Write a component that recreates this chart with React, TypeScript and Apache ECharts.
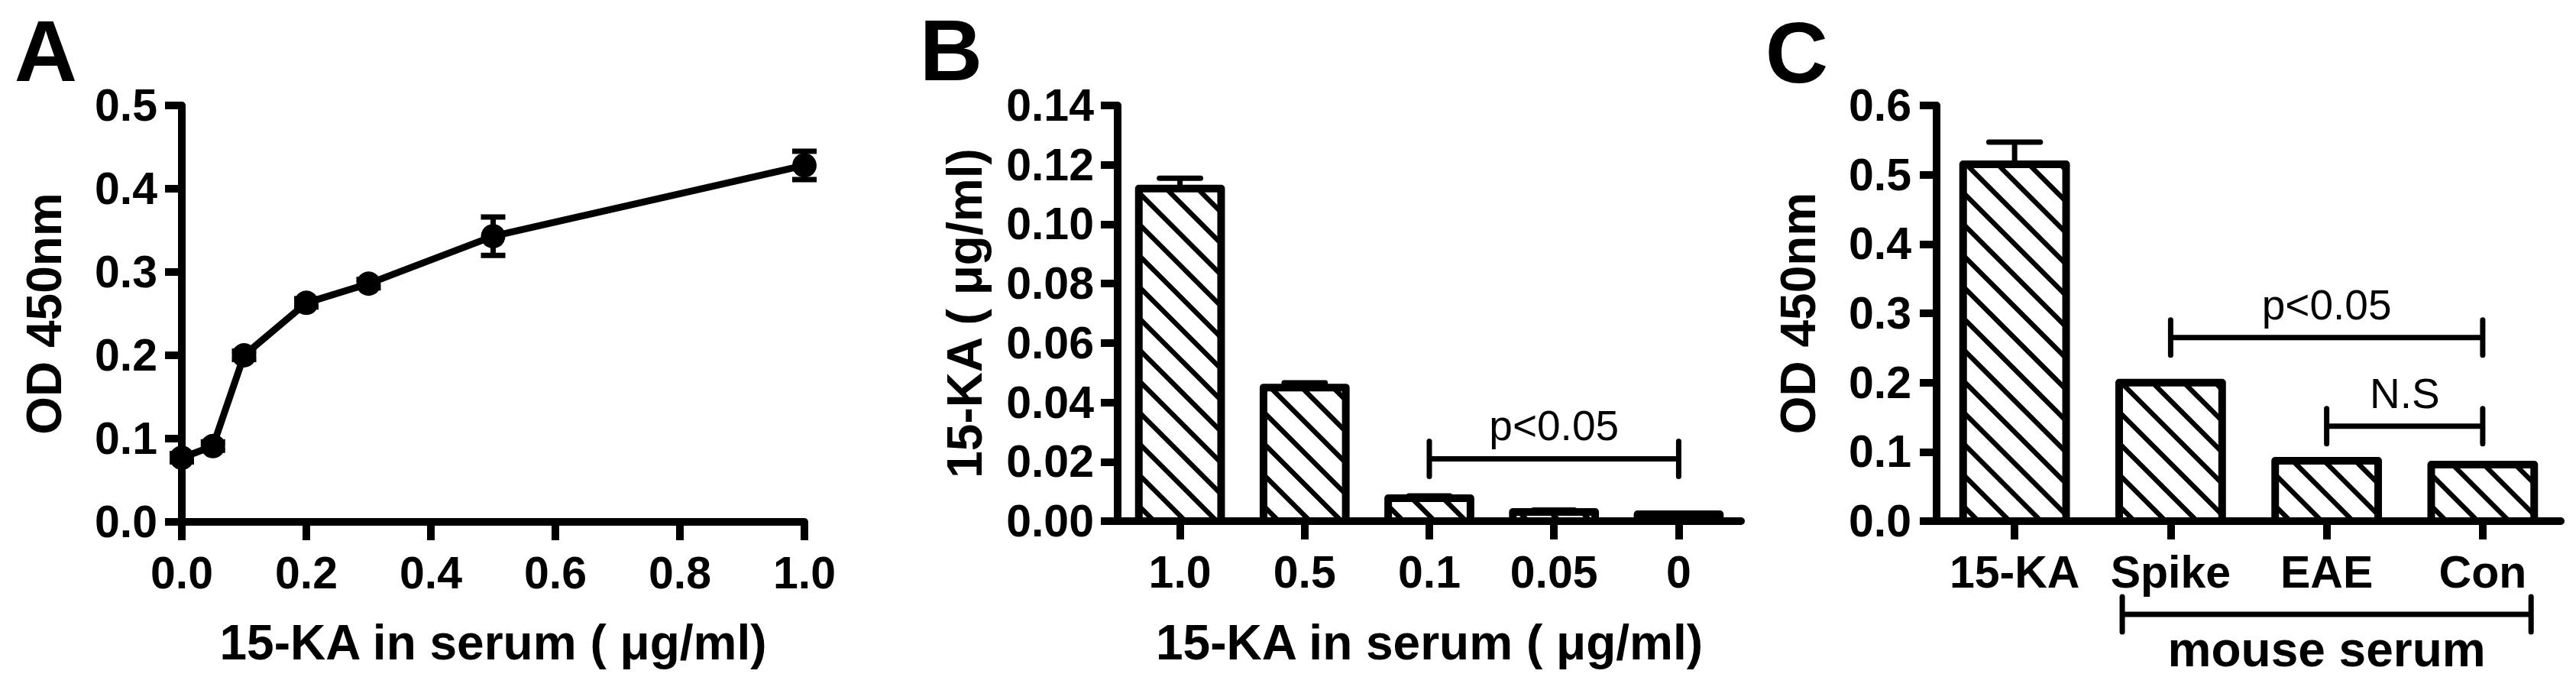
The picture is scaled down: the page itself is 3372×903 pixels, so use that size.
import React, { useEffect, useRef } from "react";
import * as echarts from "echarts";

// ---------- data ----------
const aConc = [0, 0.05, 0.1, 0.2, 0.3, 0.5, 1.0];
const aOD = [0.077, 0.091, 0.2, 0.263, 0.286, 0.343, 0.428];
const aErr = [0.005, 0.005, 0.005, 0.005, 0.005, 0.023, 0.017];

const bCats = ["1.0", "0.5", "0.1", "0.05", "0"];
const bVals = [0.112, 0.045, 0.0077, 0.0031, 0.0023];
const bErr = [0.0035, 0.0016, 0.0008, 0.0006, 0];

const cCats = ["15-KA", "Spike", "EAE", "Con"];
const cVals = [0.515, 0.2, 0.087, 0.0816];
const cErr = [0.032, 0, 0, 0];

const bSigFrom = [2];
const bSigTo = [4];
const bSigY = [0.021];
const bSigText = ["p<0.05"];

const cSigFrom = [1, 2];
const cSigTo = [3, 3];
const cSigY = [0.265, 0.137];
const cSigText = ["p<0.05", "N.S"];

const cGroupFrom = [1];
const cGroupTo = [3];
const cGroupText = ["mouse serum"];

const FONT = "'Liberation Sans', Arial, Helvetica, sans-serif";
const BLACK = "#000";

function barRender(params: any, api: any) {
  const idx = api.value(0);
  const v = api.value(1);
  const e = api.value(2);
  const base = api.coord([idx, 0]);
  const top = api.coord([idx, v]);
  const bw = api.size([1, 0])[0] * 0.66;
  const x0 = base[0] - bw / 2;
  const x1 = base[0] + bw / 2;
  const y0 = top[1];
  const y1 = base[1];
  const children: any[] = [];
  children.push({
    type: "rect",
    shape: { x: x0, y: y0, width: bw, height: y1 - y0 },
    style: { fill: "#fff", stroke: "none" },
  });
  const step = 41;
  for (let c = y1 - x0 - 20; c > y0 - x1; c -= step) {
    const xs = Math.max(x0, y0 - c);
    const xe = Math.min(x1, y1 - c);
    if (xe > xs) {
      children.push({
        type: "line",
        shape: { x1: xs, y1: xs + c, x2: xe, y2: xe + c },
        style: { stroke: BLACK, lineWidth: 6.5 },
      });
    }
  }
  if (e > 0) {
    const et = api.coord([idx, v + e])[1];
    const cw = bw * 0.5;
    children.push({
      type: "line",
      shape: { x1: base[0], y1: y0, x2: base[0], y2: et },
      style: { stroke: BLACK, lineWidth: 7 },
    });
    children.push({
      type: "line",
      shape: { x1: base[0] - cw / 2, y1: et, x2: base[0] + cw / 2, y2: et },
      style: { stroke: BLACK, lineWidth: 7, lineCap: "round" },
    });
  }
  children.push({
    type: "rect",
    shape: { x: x0, y: y0, width: bw, height: y1 - y0 },
    style: { fill: "none", stroke: BLACK, lineWidth: 10, lineJoin: "round" },
  });
  return { type: "group", children };
}

function errRender(params: any, api: any) {
  const x = api.value(0);
  const p1 = api.coord([x, api.value(1)]);
  const p2 = api.coord([x, api.value(2)]);
  const cw = 32;
  const st = { stroke: BLACK, lineWidth: 7 };
  return {
    type: "group",
    children: [
      { type: "line", shape: { x1: p1[0], y1: p1[1], x2: p2[0], y2: p2[1] }, style: st },
      { type: "line", shape: { x1: p1[0] - cw / 2, y1: p1[1], x2: p1[0] + cw / 2, y2: p1[1] }, style: st },
      { type: "line", shape: { x1: p2[0] - cw / 2, y1: p2[1], x2: p2[0] + cw / 2, y2: p2[1] }, style: st },
    ],
  };
}

function sigRender(labels: string[]) {
  return (params: any, api: any) => {
    const a = api.coord([api.value(0), api.value(2)]);
    const b = api.coord([api.value(1), api.value(2)]);
    const h = 23;
    const st = { stroke: BLACK, lineWidth: 7, lineCap: "round" };
    return {
      type: "group",
      children: [
        { type: "line", shape: { x1: a[0], y1: a[1], x2: b[0], y2: b[1] }, style: { stroke: BLACK, lineWidth: 7 } },
        { type: "line", shape: { x1: a[0], y1: a[1] - h, x2: a[0], y2: a[1] + h }, style: st },
        { type: "line", shape: { x1: b[0], y1: b[1] - h, x2: b[0], y2: b[1] + h }, style: st },
        {
          type: "text",
          style: {
            text: labels[params.dataIndex],
            x: (a[0] + b[0]) / 2,
            y: a[1] - 43,
            align: "center",
            verticalAlign: "middle",
            fontSize: 55,
            fontFamily: FONT,
            fontWeight: "normal",
            fill: BLACK,
          },
        },
      ],
    };
  };
}

function groupRender(labels: string[]) {
  return (params: any, api: any) => {
    const a = api.coord([api.value(0), 0]);
    const b = api.coord([api.value(1), 0]);
    const band = api.size([1, 0])[0];
    const l = a[0] - 0.31 * band;
    const r = b[0] + 0.31 * band;
    const y = a[1] + 122;
    const h = 23;
    const st = { stroke: BLACK, lineWidth: 7, lineCap: "round" };
    return {
      type: "group",
      children: [
        { type: "line", shape: { x1: l, y1: y, x2: r, y2: y }, style: { stroke: BLACK, lineWidth: 7 } },
        { type: "line", shape: { x1: l, y1: y - h, x2: l, y2: y + h }, style: st },
        { type: "line", shape: { x1: r, y1: y - h, x2: r, y2: y + h }, style: st },
        {
          type: "text",
          style: {
            text: labels[params.dataIndex],
            x: (l + r) / 2,
            y: y + 46,
            align: "center",
            verticalAlign: "middle",
            fontSize: 64,
            fontFamily: FONT,
            fontWeight: "bold",
            fill: BLACK,
          },
        },
      ],
    };
  };
}

const axisLineStyle = { show: true, onZero: false, lineStyle: { color: BLACK, width: 10 } };
const tickStyle = (len: number, align = false) => ({
  show: true,
  length: len,
  alignWithLabel: align,
  lineStyle: { color: BLACK, width: 10 },
});
const labelStyle = (margin: number, fmt?: (v: number) => string) => ({
  show: true,
  fontSize: 59,
  fontWeight: "bold",
  fontFamily: FONT,
  color: BLACK,
  margin,
  formatter: fmt,
  interval: 0,
});
const nameStyle = { fontSize: 64, fontWeight: "bold", fontFamily: FONT, color: BLACK };

export default function App() {
  const ref = useRef<HTMLDivElement>(null);
  useEffect(() => {
    if (!ref.current) return;
    const chart = echarts.init(ref.current, undefined, { renderer: "svg" });
    const option: any = {
      animation: false,
      backgroundColor: "#fff",
      textStyle: { fontFamily: FONT },
      grid: [
        { left: 238, top: 138, width: 815, height: 545, outerBoundsMode: "none", containLabel: false },
        { left: 1463, top: 138, width: 816, height: 544, outerBoundsMode: "none", containLabel: false },
        { left: 2535, top: 138, width: 817, height: 544, outerBoundsMode: "none", containLabel: false },
      ],
      xAxis: [
        {
          type: "value",
          gridIndex: 0,
          min: 0,
          max: 1,
          interval: 0.2,
          axisLine: axisLineStyle,
          axisTick: tickStyle(24),
          axisLabel: labelStyle(37, (v: number) => v.toFixed(1)),
          splitLine: { show: false },
          name: "15-KA in serum ( μg/ml)",
          nameLocation: "middle",
          nameGap: 126,
          nameTextStyle: nameStyle,
        },
        {
          type: "category",
          gridIndex: 1,
          data: bCats,
          boundaryGap: true,
          axisLine: axisLineStyle,
          axisTick: tickStyle(24, true),
          axisLabel: labelStyle(37),
          splitLine: { show: false },
          name: "15-KA in serum ( μg/ml)",
          nameLocation: "middle",
          nameGap: 127,
          nameTextStyle: nameStyle,
        },
        {
          type: "category",
          gridIndex: 2,
          data: cCats,
          boundaryGap: true,
          axisLine: axisLineStyle,
          axisTick: tickStyle(24, true),
          axisLabel: labelStyle(37),
          splitLine: { show: false },
        },
      ],
      yAxis: [
        {
          type: "value",
          gridIndex: 0,
          min: 0,
          max: 0.5,
          interval: 0.1,
          axisLine: axisLineStyle,
          axisTick: tickStyle(22),
          axisLabel: labelStyle(32, (v: number) => v.toFixed(1)),
          splitLine: { show: false },
          name: "OD 450nm",
          nameLocation: "middle",
          nameGap: 148,
          nameTextStyle: nameStyle,
        },
        {
          type: "value",
          gridIndex: 1,
          min: 0,
          max: 0.14,
          interval: 0.02,
          axisLine: axisLineStyle,
          axisTick: tickStyle(22),
          axisLabel: labelStyle(31, (v: number) => v.toFixed(2)),
          splitLine: { show: false },
          name: "15-KA ( μg/ml)",
          nameLocation: "middle",
          nameGap: 168,
          nameTextStyle: nameStyle,
        },
        {
          type: "value",
          gridIndex: 2,
          min: 0,
          max: 0.6,
          interval: 0.1,
          axisLine: axisLineStyle,
          axisTick: tickStyle(22),
          axisLabel: labelStyle(33, (v: number) => v.toFixed(1)),
          splitLine: { show: false },
          name: "OD 450nm",
          nameLocation: "middle",
          nameGap: 149,
          nameTextStyle: nameStyle,
        },
      ],
      graphic: [
        { type: "text", x: 60, y: 66, style: { text: "A", fontSize: 114, fontWeight: "bold", fontFamily: FONT, fill: BLACK, align: "center", verticalAlign: "middle" } },
        { type: "text", x: 1245, y: 65, style: { text: "B", fontSize: 114, fontWeight: "bold", fontFamily: FONT, fill: BLACK, align: "center", verticalAlign: "middle" } },
        { type: "text", x: 2352, y: 68, style: { text: "C", fontSize: 114, fontWeight: "bold", fontFamily: FONT, fill: BLACK, align: "center", verticalAlign: "middle" } },
      ],
      series: [
        {
          type: "custom",
          xAxisIndex: 0,
          yAxisIndex: 0,
          renderItem: errRender,
          data: aConc.map((x, i) => [x, aOD[i] - aErr[i], aOD[i] + aErr[i]]),
          z: 2,
          silent: true,
        },
        {
          type: "line",
          xAxisIndex: 0,
          yAxisIndex: 0,
          data: aConc.map((x, i) => [x, aOD[i]]),
          symbol: "circle",
          symbolSize: 32,
          lineStyle: { color: BLACK, width: 9 },
          itemStyle: { color: BLACK },
          z: 3,
          silent: true,
        },
        {
          type: "custom",
          xAxisIndex: 1,
          yAxisIndex: 1,
          renderItem: barRender,
          encode: { x: 0, y: 1 },
          data: bCats.map((_, i) => [i, bVals[i], bErr[i]]),
          z: 2,
          silent: true,
        },
        {
          type: "custom",
          xAxisIndex: 1,
          yAxisIndex: 1,
          renderItem: sigRender(bSigText),
          data: bSigFrom.map((f, i) => [f, bSigTo[i], bSigY[i]]),
          z: 3,
          silent: true,
        },
        {
          type: "custom",
          xAxisIndex: 2,
          yAxisIndex: 2,
          renderItem: barRender,
          encode: { x: 0, y: 1 },
          data: cCats.map((_, i) => [i, cVals[i], cErr[i]]),
          z: 2,
          silent: true,
        },
        {
          type: "custom",
          xAxisIndex: 2,
          yAxisIndex: 2,
          renderItem: sigRender(cSigText),
          data: cSigFrom.map((f, i) => [f, cSigTo[i], cSigY[i]]),
          z: 3,
          silent: true,
        },
        {
          type: "custom",
          xAxisIndex: 2,
          yAxisIndex: 2,
          renderItem: groupRender(cGroupText),
          data: cGroupFrom.map((f, i) => [f, cGroupTo[i]]),
          clip: false,
          z: 3,
          silent: true,
        },
      ],
    };
    chart.setOption(option);
    return () => chart.dispose();
  }, []);
  return (
    <div
      ref={ref}
      style={{ position: "fixed", left: 0, top: 0, width: 3372, height: 903, background: "#fff" }}
    />
  );
}
